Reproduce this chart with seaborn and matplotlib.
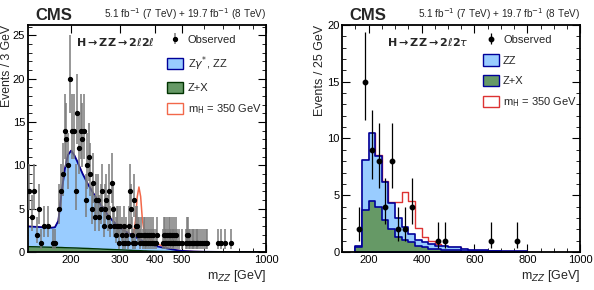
import numpy as np
import matplotlib
matplotlib.use("Agg")
import matplotlib.pyplot as plt
import seaborn as sns
from matplotlib.patches import Patch
from matplotlib.ticker import MultipleLocator, FixedLocator, FixedFormatter, NullFormatter

# ---------------- left panel: H -> ZZ -> 2l2l (smooth templates, log x) ----------------
mass_grid = [140, 150, 160, 170, 175, 180, 185, 190, 195, 200, 205, 210, 220, 230, 240,
             250, 260, 270, 280, 290, 300, 310, 320, 330, 335, 340, 345, 350, 355, 360,
             365, 370, 380, 390, 400, 420, 440, 460, 480, 500, 550, 600, 700, 800, 1000]
zx_2l2l = [0.62, 0.60, 0.57, 0.55, 0.54, 0.53, 0.52, 0.50, 0.49, 0.48, 0.47, 0.46, 0.43, 0.41, 0.38,
           0.36, 0.33, 0.31, 0.29, 0.27, 0.25, 0.23, 0.21, 0.19, 0.18, 0.17, 0.16, 0.16, 0.15, 0.14,
           0.13, 0.13, 0.11, 0.10, 0.09, 0.07, 0.06, 0.05, 0.04, 0.03, 0.02, 0.01, 0.0, 0.0, 0.0]
zz_2l2l = [2.33, 2.30, 2.28, 2.25, 2.31, 3.07, 6.48, 9.10, 10.71, 11.22, 10.73, 10.04, 8.57, 7.39, 6.42,
           5.54, 4.77, 3.99, 3.41, 2.93, 2.55, 2.22, 1.99, 1.76, 1.67, 1.58, 1.46, 1.34, 1.25, 1.16,
           1.05, 0.92, 0.84, 0.75, 0.61, 0.48, 0.36, 0.25, 0.16, 0.10, 0.04, 0.02, 0.01, 0.005, 0.0]
sig_2l2l = [0, 0, 0, 0, 0, 0, 0, 0, 0, 0, 0, 0, 0, 0, 0,
            0, 0, 0, 0, 0, 0, 0, 0, 0.02, 0.25, 1.85, 4.7, 6.0, 5.0, 2.5,
            1.2, 0.85, 0.65, 0.5, 0.4, 0.2, 0.08, 0.02, 0, 0, 0, 0, 0, 0, 0]

obs_2l2l_mass = [141.5, 144.5, 147.5, 150.5, 153.5, 156.5, 159.5, 165.5, 171.5, 174.5,
                 180.5, 183.5, 186.5, 189.5, 192.5, 195.5, 198.5, 201.5, 204.5, 207.5,
                 210.5, 213.5, 216.5, 219.5, 222.5, 225.5, 228.5, 231.5, 234.5, 237.5,
                 240.5, 243.5, 246.5, 249.5, 252.5, 255.5, 258.5, 261.5, 264.5, 267.5,
                 270.5, 273.5, 276.5, 279.5, 282.5, 285.5, 288.5, 291.5, 294.5, 297.5,
                 300.5, 303.5, 306.5, 309.5, 312.5, 315.5, 318.5, 321.5, 324.5, 327.5,
                 330.5, 333.5, 336.5, 339.5, 342.5, 345.5, 348.5, 351.5, 354.5, 357.5,
                 360.5, 363.5, 366.5, 369.5, 372.5, 375.5, 378.5, 381.5, 384.5, 387.5,
                 390.5, 393.5, 396.5, 402.5, 405.5,
                 426.5, 429.5, 432.5, 435.5, 438.5, 441.5, 444.5, 447.5, 450.5, 453.5,
                 456.5, 459.5, 462.5, 465.5, 468.5, 471.5, 474.5, 477.5, 486.5, 498.5,
                 516.5, 519.5, 522.5, 525.5, 528.5, 534.5, 540.5, 546.5, 552.5, 558.5,
                 564.5, 570.5, 579.5, 588.5, 597.5, 606.5, 615.5, 669.5, 687.5, 714.5, 747.5]
obs_2l2l_count = [7, 4, 7, 2, 5, 1, 3, 3, 1, 1,
                  5, 7, 9, 14, 13, 10, 20, 14, 14, 7,
                  16, 12, 14, 13, 14, 6, 10, 11, 9, 5,
                  8, 4, 6, 6, 4, 5, 7, 3, 5, 6,
                  4, 7, 3, 8, 5, 3, 2, 3, 3, 1,
                  3, 2, 1, 3, 1, 2, 1, 3, 7, 5,
                  2, 1, 6, 1, 3, 3, 2, 2, 1, 2,
                  1, 2, 1, 2, 1, 2, 1, 2, 1, 2,
                  1, 2, 1, 1, 2,
                  1, 2, 1, 2, 1, 2, 1, 2, 1, 2,
                  1, 2, 1, 1, 2, 1, 2, 1, 1, 1,
                  1, 2, 1, 2, 1, 1, 1, 1, 1, 1,
                  1, 1, 1, 1, 1, 1, 1, 1, 1, 1, 1]

# ---------------- right panel: H -> ZZ -> 2l2tau (25 GeV bins) ----------------
bin_lo_2l2t = [150, 175, 200, 225, 250, 275, 300, 325, 350, 375, 400, 425, 450, 475,
               500, 525, 550, 575, 600, 625, 650, 675, 700, 725, 750, 775]
zx_2l2t = [0.40, 3.70, 4.50, 4.00, 2.80, 2.00, 1.30, 1.10, 0.90, 0.55, 0.45, 0.30, 0.30, 0.20,
           0.15, 0.15, 0.10, 0.08, 0.08, 0.06, 0.05, 0.05, 0.04, 0.03, 0.03, 0.02]
zz_2l2t = [0.15, 4.40, 6.00, 4.50, 3.40, 2.30, 1.70, 1.10, 0.70, 0.55, 0.45, 0.40, 0.25, 0.30,
           0.30, 0.25, 0.15, 0.12, 0.10, 0.09, 0.07, 0.05, 0.06, 0.05, 0.04, 0.03]
sig_2l2t = [0, 0, 0, 0.05, 0.05, 0.10, 1.40, 3.10, 2.90, 1.00, 0.40, 0.30, 0.15, 0.05,
            0, 0, 0, 0, 0, 0, 0, 0, 0, 0, 0, 0]

obs_2l2t_mass = [162.5, 187.5, 212.5, 237.5, 262.5, 287.5, 312.5, 337.5, 362.5, 462.5, 487.5, 662.5, 762.5]
obs_2l2t_count = [2, 15, 9, 8, 4, 8, 2, 2, 4, 1, 1, 1, 1]

C_ZZ = "#99ccff"
C_LINE = "#000099"
C_ZX = "#669966"
C_ZX_LINE = "#003300"
C_SIG_L = "#f2684a"
C_SIG_R = "#dd3333"

sns.set_style("ticks")
plt.rcParams["font.family"] = ["Liberation Sans", "DejaVu Sans"]
plt.rcParams.update({
    "xtick.direction": "in", "ytick.direction": "in",
    "xtick.top": True, "ytick.right": True,
    "xtick.major.size": 6, "ytick.major.size": 6,
    "xtick.minor.size": 3, "ytick.minor.size": 3,
    "xtick.labelsize": 8, "ytick.labelsize": 8,
    "xtick.major.pad": 2.5, "ytick.major.pad": 2,
    "axes.linewidth": 1.3, "axes.edgecolor": "black",
    "xtick.color": "black", "ytick.color": "black",
})


def poisson_err(n):
    n = np.asarray(n, dtype=float)
    r = np.sqrt(n + 0.25)
    return r - 0.5, r + 0.5


fig = plt.figure(figsize=(5.94, 2.90), dpi=100)
axl = fig.add_axes([0.047, 0.131, 0.401, 0.783])
axr = fig.add_axes([0.576, 0.131, 0.401, 0.783])

leg_kw = dict(loc="upper left", frameon=False, fontsize=8, handlelength=1.45,
              handleheight=1.2, labelspacing=0.8, handletextpad=0.4,
              borderaxespad=0, borderpad=0.2)

# ---- left
m = np.array(mass_grid)
zx = np.array(zx_2l2l)
bkg = zx + np.array(zz_2l2l)
tot = bkg + np.array(sig_2l2l)
sns.lineplot(x=m, y=tot, color=C_SIG_L, lw=1.1, ax=axl, zorder=1)
axl.fill_between(m, 0, bkg, color=C_ZZ, lw=0, zorder=1.5)
sns.lineplot(x=m, y=bkg, color=C_LINE, lw=1.3, ax=axl, zorder=1.6)
axl.fill_between(m, 0, zx, color=C_ZX, lw=0, zorder=1.7)
sns.lineplot(x=m, y=zx, color=C_ZX_LINE, lw=1.0, ax=axl, zorder=1.8)
lo, hi = poisson_err(obs_2l2l_count)
obs_l = axl.errorbar(obs_2l2l_mass, obs_2l2l_count, yerr=[lo, hi], fmt="o", ms=2.8,
                     color="black", ecolor="#7a7a7a", elinewidth=1.1, capsize=0, zorder=5)
axl.set_xscale("log")
axl.set_xlim(140, 1000)
axl.set_ylim(0, 26.2)
axl.xaxis.set_major_locator(FixedLocator([200, 300, 400, 500, 1000]))
axl.xaxis.set_major_formatter(FixedFormatter(["200", "300", "400", "500", "1000"]))
axl.xaxis.set_minor_locator(FixedLocator([600, 700, 800, 900]))
axl.xaxis.set_minor_formatter(NullFormatter())
axl.yaxis.set_major_locator(MultipleLocator(5))
axl.yaxis.set_minor_locator(MultipleLocator(1))
axl.set_ylabel("Events / 3 GeV", fontsize=8.8, loc="top", labelpad=0)
axl.set_xlabel(r"m$_{ZZ}$ [GeV]", fontsize=9, loc="right", labelpad=2)
axl.text(0.2, 0.925, r"$\mathbf{H \rightarrow ZZ \rightarrow 2}\ell\mathbf{2}\ell$",
         transform=axl.transAxes, fontsize=8, va="center", ha="left")
axl.legend([obs_l,
            Patch(facecolor=C_ZZ, edgecolor=C_LINE, lw=1),
            Patch(facecolor=C_ZX, edgecolor=C_ZX_LINE, lw=1),
            Patch(facecolor="white", edgecolor=C_SIG_L, lw=1)],
           ["Observed", r"Z$\gamma^{*}$, ZZ", "Z+X", r"m$_{\rm H}$ = 350 GeV"],
           bbox_to_anchor=(0.575, 0.97), **leg_kw)

# ---- right
edges = [float(e) for e in bin_lo_2l2t] + [bin_lo_2l2t[-1] + 25.0]
centers = np.array(bin_lo_2l2t) + 12.5
zx_r = np.array(zx_2l2t)
bkg_r = zx_r + np.array(zz_2l2t)
tot_r = bkg_r + np.array(sig_2l2t)
sns.histplot(x=centers, weights=tot_r, bins=edges, element="step", fill=False,
             color=C_SIG_R, linewidth=1.0, ax=axr, zorder=1)
sns.histplot(x=centers, weights=bkg_r, bins=edges, element="step", fill=True, alpha=1,
             color=C_ZZ, edgecolor=C_LINE, linewidth=1.2, ax=axr, zorder=1.5)
sns.histplot(x=centers, weights=zx_r, bins=edges, element="step", fill=True, alpha=1,
             color=C_ZX, edgecolor=C_LINE, linewidth=1.2, ax=axr, zorder=1.8)
lo, hi = poisson_err(obs_2l2t_count)
obs_r = axr.errorbar(obs_2l2t_mass, obs_2l2t_count, yerr=[lo, hi], fmt="o", ms=3.2,
                     color="black", ecolor="black", elinewidth=0.9, capsize=0, zorder=5)
axr.set_xlim(100, 1000)
axr.set_ylim(0, 20)
axr.xaxis.set_major_locator(MultipleLocator(200))
axr.xaxis.set_minor_locator(MultipleLocator(50))
axr.yaxis.set_major_locator(MultipleLocator(5))
axr.yaxis.set_minor_locator(MultipleLocator(1))
axr.set_ylabel("Events / 25 GeV", fontsize=9, loc="top", labelpad=1)
axr.set_xlabel(r"m$_{ZZ}$ [GeV]", fontsize=9, loc="right", labelpad=2)
axr.text(0.19, 0.925, r"$\mathbf{H \rightarrow ZZ \rightarrow 2}\ell\mathbf{2}\tau$",
         transform=axr.transAxes, fontsize=8, va="center", ha="left")
axr.legend([obs_r,
            Patch(facecolor=C_ZZ, edgecolor=C_LINE, lw=1),
            Patch(facecolor=C_ZX, edgecolor=C_LINE, lw=1),
            Patch(facecolor="white", edgecolor=C_SIG_R, lw=1)],
           ["Observed", "ZZ", "Z+X", r"m$_{\rm H}$ = 350 GeV"],
           bbox_to_anchor=(0.58, 0.97), **leg_kw)

for ax in (axl, axr):
    ax.text(0.03, 1.008, "CMS", transform=ax.transAxes, fontsize=12, fontweight="bold",
            ha="left", va="bottom")
    ax.text(1.0, 1.015, r"5.1 fb$^{-1}$ (7 TeV) + 19.7 fb$^{-1}$ (8 TeV)", transform=ax.transAxes,
            fontsize=7.2, ha="right", va="bottom")
    ax.tick_params(which="both", top=True, right=True)

fig.savefig("out.png", dpi=100)
